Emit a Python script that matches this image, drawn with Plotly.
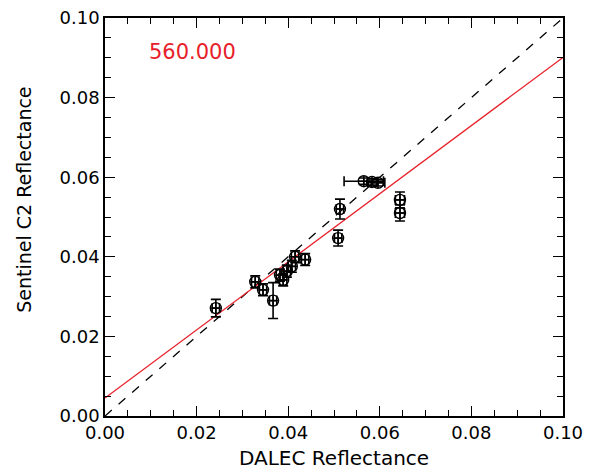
import plotly.graph_objects as go

# DALEC vs Sentinel C2 reflectance at 560 nm
dalec = [0.0242, 0.0328, 0.0345, 0.0367, 0.0382, 0.0389, 0.0397, 0.0408, 0.0415,
         0.0437, 0.0509, 0.0513, 0.0565, 0.0583, 0.0596, 0.0644, 0.0644]
sentinel = [0.0271, 0.0337, 0.0317, 0.0290, 0.0354, 0.0342, 0.0364, 0.0376, 0.0400,
            0.0393, 0.0447, 0.0520, 0.0590, 0.0588, 0.0586, 0.0543, 0.0510]
dalec_err = [0.0008, 0.0008, 0.0008, 0.0008, 0.0008, 0.0008, 0.0008, 0.0008, 0.0008,
             0.0008, 0.0008, 0.0008, 0.0043, 0.0010, 0.0015, 0.0010, 0.0010]
sentinel_err = [0.0022, 0.0015, 0.0015, 0.0045, 0.0015, 0.0015, 0.0015, 0.0015, 0.0015,
                0.0015, 0.0020, 0.0025, 0.0008, 0.0008, 0.0008, 0.0020, 0.0020]

# linear fit parameters
fit_slope = 0.856
fit_intercept = 0.0045
axis_range = [0.0, 0.10]
major_ticks = [0.0, 0.02, 0.04, 0.06, 0.08, 0.10]
minor_ticks = [0.005, 0.01, 0.015, 0.025, 0.03, 0.035, 0.045, 0.05, 0.055,
               0.065, 0.07, 0.075, 0.085, 0.09, 0.095]
band_label = "560.000"
x_title = "DALEC Reflectance"
y_title = "Sentinel C2 Reflectance"

FONT = "DejaVu Sans"
RED = "#e8202a"

fig = go.Figure()

fig.add_trace(go.Scatter(
    x=axis_range, y=axis_range, mode="lines",
    line=dict(color="black", width=1.3, dash="dash"), showlegend=False))

fig.add_trace(go.Scatter(
    x=axis_range, y=[fit_intercept + fit_slope * v for v in axis_range], mode="lines",
    line=dict(color=RED, width=1.3), showlegend=False))

fig.add_trace(go.Scatter(
    x=dalec, y=sentinel, mode="markers",
    marker=dict(symbol="circle-cross-open", size=11, color="black",
                line=dict(color="black", width=1.4)),
    error_x=dict(type="data", array=dalec_err, color="black", thickness=1.6, width=5),
    error_y=dict(type="data", array=sentinel_err, color="black", thickness=1.6, width=5),
    showlegend=False))

fig.add_annotation(x=0.0092, y=0.0915, text=band_label, showarrow=False,
                   xanchor="left", yanchor="middle",
                   font=dict(color=RED, size=21, family=FONT))

fig.add_annotation(xref="paper", yref="paper", x=0.5, y=-0.106, text=x_title,
                   showarrow=False, xanchor="center", yanchor="middle",
                   font=dict(size=20, family=FONT, color="black"))
fig.add_annotation(xref="paper", yref="paper", x=-0.177, y=0.543, text=y_title,
                   textangle=-90, showarrow=False, xanchor="center", yanchor="middle",
                   font=dict(size=19, family=FONT, color="black"))

for upd in (fig.update_xaxes, fig.update_yaxes):
    upd(range=axis_range, tickmode="array", tickvals=major_ticks, tickformat=".2f",
        ticks="inside", ticklen=10, tickwidth=1.4, tickcolor="black",
        showline=True, linecolor="black", linewidth=1.6, mirror="ticks",
        showgrid=False, zeroline=False, automargin=False,
        tickfont=dict(size=18, family=FONT, color="black"),
        minor=dict(ticks="inside", ticklen=6, tickmode="array", tickvals=minor_ticks,
                   tickcolor="black", tickwidth=1.4, showgrid=False))

fig.update_layout(
    width=601, height=472,
    margin=dict(l=105, r=38, t=18, b=56),
    paper_bgcolor="white", plot_bgcolor="white")

fig.write_html("out.html")
